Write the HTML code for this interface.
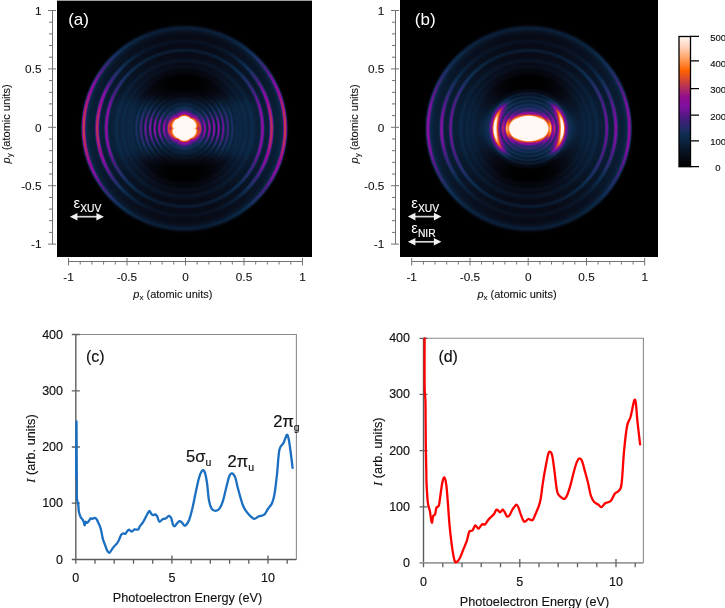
<!DOCTYPE html>
<html><head><meta charset="utf-8">
<style>
html,body{margin:0;padding:0;background:#fff;width:725px;height:608px;overflow:hidden;}
body{position:relative;font-family:"Liberation Sans",sans-serif;}
canvas{position:absolute;display:block;}
#fb{position:absolute;left:0;top:0;}
#ca{left:57px;top:1px;width:255px;height:256px;}
#cb{left:400px;top:0px;width:258px;height:257px;}
#topline{position:absolute;left:57px;top:0;width:255px;height:1px;background:#a0a0a0;}
svg{position:absolute;left:0;top:0;}
.tk{font-size:11.8px;fill:#111;stroke:#111;stroke-width:0.1px;}
.tk2{font-size:12.5px;fill:#111;stroke:#111;stroke-width:0.15px;}
.al{font-size:11px;fill:#111;stroke:#111;stroke-width:0.1px;}
.sub{font-size:8px;}
.pl{font-size:17px;}
.pl2{font-size:16px;fill:#111;stroke:#111;stroke-width:0.15px;}
.eps{font-size:15px;}
.esub{font-size:10.3px;stroke:#fff;stroke-width:0.15px;}
.cb{font-size:9.5px;fill:#111;stroke:#111;stroke-width:0.15px;}
.at{font-size:12.7px;fill:#111;stroke:#111;stroke-width:0.12px;}
.pk{font-size:16.5px;fill:#111;stroke:#111;stroke-width:0.2px;}
.pks{font-size:10.5px;}
</style></head><body>
<div id="topline"></div>
<svg id="fb" width="725" height="258" viewBox="0 0 725 258"><defs><filter id="bl" x="-10%" y="-10%" width="120%" height="120%"><feGaussianBlur stdDeviation="1.2"/></filter></defs><rect x="57" y="1" width="255" height="256" fill="#000"/><rect x="400" y="0" width="258" height="257" fill="#000"/><g filter="url(#bl)"><circle cx="184.4" cy="128.4" r="88" fill="none" stroke="#040d18" stroke-width="30"/>
<circle cx="184.4" cy="128.4" r="100.8" fill="none" stroke="#0c2d4e" stroke-width="4"/>
<circle cx="184.4" cy="128.4" r="87.2" fill="none" stroke="#0a2440" stroke-width="2.5"/>
<circle cx="184.4" cy="128.4" r="78.1" fill="none" stroke="#0c2d4e" stroke-width="2.5"/>
<circle cx="184.4" cy="128.4" r="68" fill="none" stroke="#081c30" stroke-width="2"/>
<circle cx="184.4" cy="128.4" r="61.5" fill="none" stroke="#081c30" stroke-width="2"/>
<path d="M271.9 178.9A101 101 0 0 0 271.9 77.9 M96.9 77.9A101 101 0 0 0 96.9 178.9" fill="none" stroke="#b02c70" stroke-width="3.5"/>
<path d="M259.9 172.0A87.2 87.2 0 0 0 259.9 84.8 M108.9 84.8A87.2 87.2 0 0 0 108.9 172.0" fill="none" stroke="#b02c70" stroke-width="3.5"/>
<path d="M252.0 167.4A78.1 78.1 0 0 0 252.0 89.4 M116.8 89.4A78.1 78.1 0 0 0 116.8 167.5" fill="none" stroke="#b02c70" stroke-width="3"/>
<rect x="114.4" y="100.4" width="140" height="56" rx="28" fill="#071a2e"/>
<ellipse cx="184.4" cy="128.4" rx="42" ry="18" fill="#3a1a6a"/>
<circle cx="184.4" cy="128.4" r="13.5" fill="#ff6400"/><circle cx="184.4" cy="128.4" r="12" fill="#fff8f4"/><circle cx="528.7" cy="128.5" r="88" fill="none" stroke="#040d18" stroke-width="30"/>
<circle cx="528.7" cy="128.5" r="100.8" fill="none" stroke="#0c2d4e" stroke-width="4"/>
<circle cx="528.7" cy="128.5" r="87.2" fill="none" stroke="#0a2440" stroke-width="2.5"/>
<circle cx="528.7" cy="128.5" r="78.1" fill="none" stroke="#0c2d4e" stroke-width="2.5"/>
<circle cx="528.7" cy="128.5" r="68" fill="none" stroke="#081c30" stroke-width="2"/>
<circle cx="528.7" cy="128.5" r="61.5" fill="none" stroke="#081c30" stroke-width="2"/>
<path d="M616.2 179.0A101 101 0 0 0 616.2 78.0 M441.2 78.0A101 101 0 0 0 441.2 179.0" fill="none" stroke="#8a10a0" stroke-width="3.5"/>
<path d="M604.2 172.1A87.2 87.2 0 0 0 604.2 84.9 M453.2 84.9A87.2 87.2 0 0 0 453.2 172.1" fill="none" stroke="#8a10a0" stroke-width="3.5"/>
<path d="M596.3 167.5A78.1 78.1 0 0 0 596.3 89.5 M461.1 89.5A78.1 78.1 0 0 0 461.1 167.6" fill="none" stroke="#8a10a0" stroke-width="3"/>
<ellipse cx="528.7" cy="128.5" rx="40" ry="34" fill="#071a2e"/>
<path d="M555.2 149.2A33.6 33.6 0 0 0 555.2 107.8 M502.2 107.8A33.6 33.6 0 0 0 502.2 149.2" fill="none" stroke="#ff7010" stroke-width="5"/>
<path d="M561.3 136.6A33.6 33.6 0 0 0 561.3 120.4 M496.1 120.4A33.6 33.6 0 0 0 496.1 136.6" fill="none" stroke="#fff8f4" stroke-width="2.5"/>
<ellipse cx="528.7" cy="128.5" rx="20" ry="13.3" fill="#ff6400"/><ellipse cx="528.7" cy="128.5" rx="18.5" ry="11.8" fill="#fff8f4"/></g></svg>
<canvas id="ca" width="255" height="256"></canvas>
<canvas id="cb" width="258" height="257"></canvas>
<svg width="725" height="608" viewBox="0 0 725 608">
<path d="M52.5 10.5V244.1" stroke="#727272" stroke-width="1"/>
<path d="M48 244.1H56M49 232.4H52.5M49 220.7H52.5M49 209.1H52.5M49 197.4H52.5M48 185.7H56M49 174.0H52.5M49 162.3H52.5M49 150.7H52.5M49 139.0H52.5M48 127.3H56M49 115.6H52.5M49 103.9H52.5M49 92.3H52.5M49 80.6H52.5M48 68.9H56M49 57.2H52.5M49 45.5H52.5M49 33.9H52.5M49 22.2H52.5M48 10.5H56" stroke="#727272" stroke-width="1"/>
<path d="M68.5 261.5H302.5" stroke="#727272" stroke-width="1"/>
<path d="M68.5 258.0V265.5M80.2 261.5V264.5M91.9 261.5V264.5M103.6 261.5V264.5M115.3 261.5V264.5M127.0 258.0V265.5M138.7 261.5V264.5M150.4 261.5V264.5M162.1 261.5V264.5M173.8 261.5V264.5M185.5 258.0V265.5M197.2 261.5V264.5M208.9 261.5V264.5M220.6 261.5V264.5M232.3 261.5V264.5M244.0 258.0V265.5M255.7 261.5V264.5M267.4 261.5V264.5M279.1 261.5V264.5M290.8 261.5V264.5M302.5 258.0V265.5" stroke="#727272" stroke-width="1"/>
<text x="41.5" y="248.4" text-anchor="end" class="tk">-1</text>
<text x="41.5" y="190.0" text-anchor="end" class="tk">-0.5</text>
<text x="41.5" y="131.6" text-anchor="end" class="tk">0</text>
<text x="41.5" y="73.2" text-anchor="end" class="tk">0.5</text>
<text x="41.5" y="14.8" text-anchor="end" class="tk">1</text>
<text x="68.5" y="281" text-anchor="middle" class="tk">-1</text>
<text x="127.0" y="281" text-anchor="middle" class="tk">-0.5</text>
<text x="185.5" y="281" text-anchor="middle" class="tk">0</text>
<text x="244.0" y="281" text-anchor="middle" class="tk">0.5</text>
<text x="302.5" y="281" text-anchor="middle" class="tk">1</text>
<text x="133.3" y="298.1" class="al"><tspan font-style="italic">p</tspan><tspan class="sub" dy="2">x</tspan><tspan dy="-2"> (atomic units)</tspan></text>
<path d="M395.5 10.5V244.1" stroke="#727272" stroke-width="1"/>
<path d="M391 244.1H399M392 232.4H395.5M392 220.7H395.5M392 209.1H395.5M392 197.4H395.5M391 185.7H399M392 174.0H395.5M392 162.3H395.5M392 150.7H395.5M392 139.0H395.5M391 127.3H399M392 115.6H395.5M392 103.9H395.5M392 92.3H395.5M392 80.6H395.5M391 68.9H399M392 57.2H395.5M392 45.5H395.5M392 33.9H395.5M392 22.2H395.5M391 10.5H399" stroke="#727272" stroke-width="1"/>
<path d="M411.7 261.5H644.7" stroke="#727272" stroke-width="1"/>
<path d="M411.7 258.0V265.5M423.4 261.5V264.5M435.0 261.5V264.5M446.7 261.5V264.5M458.3 261.5V264.5M470.0 258.0V265.5M481.6 261.5V264.5M493.3 261.5V264.5M504.9 261.5V264.5M516.6 261.5V264.5M528.2 258.0V265.5M539.9 261.5V264.5M551.5 261.5V264.5M563.2 261.5V264.5M574.8 261.5V264.5M586.5 258.0V265.5M598.1 261.5V264.5M609.8 261.5V264.5M621.4 261.5V264.5M633.1 261.5V264.5M644.7 258.0V265.5" stroke="#727272" stroke-width="1"/>
<text x="384.3" y="248.4" text-anchor="end" class="tk">-1</text>
<text x="384.3" y="190.0" text-anchor="end" class="tk">-0.5</text>
<text x="384.3" y="131.6" text-anchor="end" class="tk">0</text>
<text x="384.3" y="73.2" text-anchor="end" class="tk">0.5</text>
<text x="384.3" y="14.8" text-anchor="end" class="tk">1</text>
<text x="411.7" y="281" text-anchor="middle" class="tk">-1</text>
<text x="470.0" y="281" text-anchor="middle" class="tk">-0.5</text>
<text x="528.2" y="281" text-anchor="middle" class="tk">0</text>
<text x="586.5" y="281" text-anchor="middle" class="tk">0.5</text>
<text x="644.7" y="281" text-anchor="middle" class="tk">1</text>
<text x="477.4" y="298.1" class="al"><tspan font-style="italic">p</tspan><tspan class="sub" dy="2">x</tspan><tspan dy="-2"> (atomic units)</tspan></text>
<text transform="translate(10.2 123.9) rotate(-90)" text-anchor="middle" class="al"><tspan font-style="italic">p</tspan><tspan class="sub" dy="2">y</tspan><tspan dy="-2"> (atomic units)</tspan></text>
<text transform="translate(357.6 123.9) rotate(-90)" text-anchor="middle" class="al"><tspan font-style="italic">p</tspan><tspan class="sub" dy="2">y</tspan><tspan dy="-2"> (atomic units)</tspan></text>
<text x="68.2" y="25" class="pl" fill="#fff">(a)</text>
<text x="414.8" y="25" class="pl" fill="#fff">(b)</text>
<text x="73.5" y="208" class="eps" fill="#fff">ε<tspan class="esub" dy="4">XUV</tspan></text>
<path d="M75.9 216.7H97.9" stroke="#d8d8d8" stroke-width="1.7"/><path d="M69.9 216.7L77.4 212.89999999999998V220.5Z M103.9 216.7L96.4 212.89999999999998V220.5Z" fill="#f0f0f0"/>
<text x="411.2" y="207.6" class="eps" fill="#fff">ε<tspan class="esub" dy="4">XUV</tspan></text>
<path d="M413.9 216.6H435.4" stroke="#d8d8d8" stroke-width="1.7"/><path d="M407.9 216.6L415.4 212.79999999999998V220.4Z M441.4 216.6L433.9 212.79999999999998V220.4Z" fill="#f0f0f0"/>
<text x="411.2" y="233.4" class="eps" fill="#fff">ε<tspan class="esub" dy="4">NIR</tspan></text>
<path d="M413.9 241.8H435.4" stroke="#d8d8d8" stroke-width="1.7"/><path d="M407.9 241.8L415.4 238.0V245.60000000000002Z M441.4 241.8L433.9 238.0V245.60000000000002Z" fill="#f0f0f0"/>
<defs><linearGradient id="cbg" x1="0" y1="1" x2="0" y2="0"><stop offset="0" stop-color="#000"/><stop offset="0.08" stop-color="#080c18"/><stop offset="0.17" stop-color="#0a1e36"/><stop offset="0.24" stop-color="#0c2d4e"/><stop offset="0.30" stop-color="#262a6a"/><stop offset="0.38" stop-color="#4c1a80"/><stop offset="0.46" stop-color="#8010a0"/><stop offset="0.53" stop-color="#900c90"/><stop offset="0.60" stop-color="#b02c60"/><stop offset="0.67" stop-color="#d84830"/><stop offset="0.74" stop-color="#ff6400"/><stop offset="0.83" stop-color="#ffa060"/><stop offset="0.916" stop-color="#ffd0b8"/><stop offset="1" stop-color="#fff8f4"/></linearGradient></defs>
<rect x="679" y="36.5" width="11.5" height="130.2" fill="url(#cbg)" stroke="#000" stroke-width="1.3"/>
<path d="M690 36.3H699M690 60.9H699M690 88.6H699M690 115.2H699M690 140.9H699M690 166.7H699" stroke="#000" stroke-width="1.3"/>
<text x="715.3" y="170.9" class="cb">0</text>
<text x="710.3" y="145.1" class="cb">100</text>
<text x="710.3" y="119.7" class="cb">200</text>
<text x="710.3" y="93.1" class="cb">300</text>
<text x="710.3" y="67.0" class="cb">400</text>
<text x="710.3" y="40.9" class="cb">500</text>
<path d="M75.8 334.5H296.4V559.5" stroke="#8a8a8a" stroke-width="1.1" fill="none"/>
<path d="M75.8 334.5V559.5" stroke="#6a6a6a" stroke-width="1.5" fill="none"/>
<path d="M71.8 559.5H296.4" stroke="#5a5a5a" stroke-width="1.3" fill="none"/>
<path d="M71.8 503.2H79.8M71.8 447.0H79.8M71.8 390.8H79.8M71.8 334.5H79.8M75.8 559.5V563.8M95.0 559.5V563.8M114.2 559.5V563.8M133.5 559.5V563.8M152.7 559.5V563.8M171.9 555.5V563.8M191.1 559.5V563.8M210.3 559.5V563.8M229.6 559.5V563.8M248.8 559.5V563.8M268.0 555.5V563.8M287.2 559.5V563.8" stroke="#606060" stroke-width="1.3"/>
<text x="63" y="563.5" text-anchor="end" class="tk2">0</text>
<text x="63" y="507.2" text-anchor="end" class="tk2">100</text>
<text x="63" y="451.0" text-anchor="end" class="tk2">200</text>
<text x="63" y="394.8" text-anchor="end" class="tk2">300</text>
<text x="63" y="338.5" text-anchor="end" class="tk2">400</text>
<text x="75.8" y="582.4" text-anchor="middle" class="tk2">0</text>
<text x="171.9" y="582.4" text-anchor="middle" class="tk2">5</text>
<text x="268.0" y="582.4" text-anchor="middle" class="tk2">10</text>
<text x="112.8" y="601.5" class="at">Photoelectron Energy (eV)</text>
<text x="86" y="361.6" class="pl2">(c)</text>
<text transform="translate(35 448.5) rotate(-90)" text-anchor="middle" class="at"><tspan font-family="Liberation Serif" font-style="italic">I</tspan> (arb. units)</text>
<path d="M423.5 338.3H643.4V562.9" stroke="#8a8a8a" stroke-width="1.1" fill="none"/>
<path d="M423.5 338.3V562.9" stroke="#5a5a5a" stroke-width="1.4" fill="none"/>
<path d="M419.5 562.9H643.4" stroke="#9a9a9a" stroke-width="1.9" fill="none"/>
<path d="M419.5 506.8H427.5M419.5 450.6H427.5M419.5 394.4H427.5M419.5 338.3H427.5M423.5 562.9V567.1999999999999M442.8 562.9V567.1999999999999M462.0 562.9V567.1999999999999M481.2 562.9V567.1999999999999M500.5 562.9V567.1999999999999M519.8 558.9V567.1999999999999M539.0 562.9V567.1999999999999M558.2 562.9V567.1999999999999M577.5 562.9V567.1999999999999M596.8 562.9V567.1999999999999M616.0 558.9V567.1999999999999M635.2 562.9V567.1999999999999" stroke="#606060" stroke-width="1.3"/>
<text x="410" y="566.9" text-anchor="end" class="tk2">0</text>
<text x="410" y="510.8" text-anchor="end" class="tk2">100</text>
<text x="410" y="454.6" text-anchor="end" class="tk2">200</text>
<text x="410" y="398.4" text-anchor="end" class="tk2">300</text>
<text x="410" y="342.3" text-anchor="end" class="tk2">400</text>
<text x="423.5" y="585.7" text-anchor="middle" class="tk2">0</text>
<text x="519.8" y="585.7" text-anchor="middle" class="tk2">5</text>
<text x="616.0" y="585.7" text-anchor="middle" class="tk2">10</text>
<text x="459.7" y="605.5" class="at">Photoelectron Energy (eV)</text>
<text x="438.4" y="361.6" class="pl2">(d)</text>
<text transform="translate(382 451.7) rotate(-90)" text-anchor="middle" class="at"><tspan font-family="Liberation Serif" font-style="italic">I</tspan> (arb. units)</text>
<text x="186" y="461.5" class="pk">5σ<tspan class="pks" dy="4">u</tspan></text>
<text x="227.6" y="466.7" class="pk">2π<tspan class="pks" dy="4">u</tspan></text>
<text x="273.3" y="426.9" class="pk">2π<tspan class="pks" dy="4">g</tspan></text>
<path d="M76.2 478.0C76.2 468.6 76.4 421.2 76.5 421.5C76.6 421.8 76.7 467.2 76.8 480.0C76.9 492.8 76.7 494.4 76.9 498.4C77.1 502.3 77.9 501.5 78.2 503.7C78.5 505.9 78.5 509.4 78.9 511.6C79.3 513.8 79.9 515.5 80.5 516.8C81.1 518.1 82.0 518.6 82.5 519.5C83.0 520.4 83.4 521.1 83.8 522.1C84.2 523.1 84.4 525.5 84.7 525.4C85.0 525.3 85.1 522.2 85.5 521.8C85.9 521.4 86.5 523.0 87.1 522.8C87.7 522.6 88.5 521.5 89.1 520.8C89.6 520.1 89.9 518.7 90.4 518.4C91.0 518.1 91.8 518.9 92.4 518.8C93.1 518.7 93.7 517.9 94.3 517.9C94.9 517.9 95.6 518.0 96.3 518.8C97.0 519.6 97.6 521.4 98.3 522.8C99.0 524.2 99.8 525.8 100.3 527.4C100.8 529.0 101.2 530.6 101.6 532.6C102.0 534.6 102.4 537.2 102.9 539.2C103.5 541.2 104.2 542.8 104.9 544.5C105.6 546.2 106.2 548.4 106.8 549.7C107.4 551.1 108.2 552.2 108.8 552.6C109.3 553.0 109.5 552.7 110.1 552.1C110.6 551.5 111.3 550.2 112.1 549.1C112.9 548.0 113.8 546.8 114.7 545.8C115.6 544.8 116.6 544.0 117.4 542.9C118.2 541.8 118.7 540.6 119.3 539.2C119.9 537.8 120.6 535.6 121.3 534.6C122.0 533.6 122.6 533.4 123.3 533.3C124.0 533.1 124.4 534.3 125.3 533.7C126.2 533.1 127.5 530.1 128.6 529.8C129.7 529.4 130.8 531.7 131.8 531.6C132.8 531.5 133.4 529.7 134.5 529.4C135.6 529.1 137.2 530.1 138.1 529.6C139.0 529.1 139.1 527.5 139.9 526.2C140.7 525.0 142.0 523.9 143.1 522.1C144.2 520.3 145.7 517.1 146.7 515.3C147.7 513.4 148.6 511.3 149.3 511.0C150.1 510.7 150.6 513.0 151.2 513.7C151.8 514.4 152.4 515.1 153.1 515.2C153.8 515.3 154.6 514.1 155.3 514.3C156.0 514.5 156.4 515.0 157.1 516.2C157.8 517.4 158.4 521.2 159.4 521.7C160.4 522.2 161.9 519.5 163.0 519.0C164.1 518.5 164.7 519.0 165.7 518.5C166.7 518.0 168.0 515.9 168.9 515.8C169.8 515.7 170.5 516.6 171.2 518.1C171.9 519.6 172.4 523.4 173.0 524.8C173.6 526.1 174.0 526.4 174.6 526.2C175.2 526.1 175.8 524.7 176.6 523.9C177.4 523.1 178.4 521.4 179.3 521.2C180.2 521.0 181.1 521.9 182.0 522.6C182.9 523.4 183.8 526.2 185.0 525.7C186.2 525.2 187.9 522.7 189.2 519.7C190.4 516.7 191.4 512.5 192.5 507.9C193.6 503.3 194.7 497.2 195.8 492.1C196.9 487.1 198.0 481.2 199.1 477.6C200.2 474.0 201.4 471.2 202.4 470.4C203.4 469.6 204.2 470.9 205.0 473.0C205.8 475.1 206.3 478.4 207.0 482.9C207.7 487.4 208.1 495.7 208.9 500.0C209.7 504.3 210.5 506.8 211.6 508.6C212.7 510.4 214.2 510.8 215.5 510.8C216.8 510.8 218.3 510.2 219.5 508.6C220.7 507.0 221.7 504.7 222.8 501.3C223.9 497.9 225.0 492.4 226.1 488.2C227.2 484.0 228.3 478.8 229.3 476.3C230.3 473.8 231.0 473.2 232.0 473.4C233.0 473.6 234.3 475.1 235.3 477.6C236.3 480.1 236.7 483.8 237.9 488.2C239.1 492.6 241.1 500.3 242.4 504.0C243.7 507.7 244.3 508.6 245.7 510.6C247.1 512.6 249.1 514.9 250.6 516.3C252.1 517.7 253.0 518.8 254.4 518.8C255.8 518.8 257.2 517.0 258.9 516.3C260.5 515.6 262.8 515.9 264.3 514.7C265.8 513.5 266.6 510.8 267.9 508.9C269.2 507.0 270.9 505.7 272.0 503.2C273.1 500.7 273.7 498.9 274.5 494.1C275.3 489.3 276.2 481.8 277.0 474.4C277.8 467.0 278.3 454.9 279.4 449.7C280.5 444.5 282.3 445.6 283.5 443.1C284.7 440.6 286.0 435.7 286.8 434.9C287.6 434.1 287.9 436.0 288.5 438.2C289.1 440.4 289.4 443.1 290.1 448.0C290.8 452.9 292.2 464.5 292.6 467.8" stroke="#1a6fc0" stroke-width="2.3" fill="none" stroke-linejoin="round" stroke-linecap="round"/>
<path d="M424.6 338.5C424.6 346.4 424.5 375.8 424.6 386.0C424.7 396.2 425.2 394.3 425.4 400.0C425.6 405.7 425.5 412.6 425.6 420.0C425.7 427.4 425.7 436.4 425.8 444.7C425.9 453.0 426.2 463.3 426.3 470.0C426.4 476.7 426.3 479.3 426.6 484.8C426.9 490.3 427.3 498.5 427.9 502.9C428.4 507.3 429.2 507.8 429.9 511.1C430.5 514.4 431.2 521.8 431.8 522.6C432.4 523.4 432.6 517.4 433.2 516.0C433.8 514.6 434.6 515.8 435.1 514.4C435.6 513.0 435.8 509.3 436.4 507.8C437.0 506.3 438.2 507.5 438.9 505.3C439.6 503.1 439.9 498.4 440.5 494.7C441.1 491.0 441.6 486.1 442.2 483.2C442.8 480.3 443.6 477.1 444.3 477.4C445.0 477.7 445.7 480.6 446.3 484.8C446.9 489.1 447.3 496.0 447.9 502.9C448.4 509.8 448.9 518.5 449.6 525.9C450.3 533.3 451.3 541.5 452.1 547.3C452.9 553.0 453.8 557.9 454.5 560.4C455.2 562.9 455.7 562.4 456.5 562.1C457.3 561.8 458.3 561.0 459.5 558.8C460.7 556.6 462.4 551.9 463.6 548.9C464.8 545.9 465.9 543.6 466.9 540.7C467.8 537.8 468.4 533.3 469.3 531.6C470.2 529.9 471.3 531.5 472.3 530.5C473.3 529.5 474.3 526.1 475.1 525.6C475.9 525.1 476.6 527.0 477.2 527.5C477.8 528.0 478.1 528.9 478.9 528.4C479.7 527.9 481.2 524.9 482.2 524.2C483.2 523.6 483.9 525.2 484.9 524.5C485.9 523.8 487.2 521.1 488.2 519.9C489.2 518.7 489.8 518.2 490.8 517.2C491.8 516.2 493.2 515.2 494.1 514.0C495.0 512.8 495.5 510.6 496.1 510.0C496.8 509.4 497.4 509.9 498.0 510.3C498.6 510.7 499.2 512.5 500.0 512.4C500.8 512.3 501.8 509.8 502.6 509.7C503.4 509.6 503.8 510.9 504.6 512.0C505.4 513.1 506.3 516.2 507.2 516.6C508.1 517.0 509.0 515.8 509.9 514.6C510.8 513.4 511.7 510.6 512.5 509.3C513.3 508.0 513.9 507.5 514.5 506.7C515.1 505.9 515.8 504.6 516.4 504.7C517.0 504.8 517.6 505.6 518.4 507.4C519.2 509.2 520.2 513.0 521.1 515.3C522.0 517.6 522.9 520.2 523.7 521.2C524.5 522.2 524.9 521.6 525.7 521.2C526.5 520.8 527.4 519.2 528.3 519.0C529.2 518.8 530.1 519.8 530.9 519.9C531.7 520.0 532.1 520.9 532.9 519.9C533.7 518.9 534.5 516.3 535.5 514.0C536.5 511.7 537.9 508.7 538.8 506.1C539.7 503.5 540.2 501.6 540.8 498.2C541.4 494.8 541.8 490.0 542.5 485.4C543.2 480.8 543.9 475.9 544.9 470.7C545.9 465.5 547.3 457.3 548.2 454.2C549.1 451.1 549.5 451.5 550.2 451.8C550.9 452.1 551.7 453.3 552.3 455.9C552.9 458.5 553.5 463.3 554.0 467.4C554.5 471.5 555.1 476.4 555.6 480.5C556.1 484.6 556.6 489.4 557.3 492.0C558.0 494.6 558.5 495.0 559.7 496.1C560.9 497.2 563.1 499.0 564.3 498.9C565.5 498.8 566.1 497.6 567.1 495.3C568.1 493.1 569.3 489.2 570.4 485.4C571.5 481.6 572.6 476.3 573.7 472.3C574.8 468.3 576.0 463.9 577.0 461.6C578.0 459.3 578.6 458.4 579.4 458.3C580.2 458.2 580.9 458.5 581.9 460.8C582.9 463.1 584.1 468.4 585.2 472.3C586.3 476.2 587.4 480.1 588.3 484.0C589.2 487.9 589.8 492.5 590.8 495.5C591.8 498.5 592.9 500.5 594.2 502.0C595.5 503.5 597.2 503.8 598.4 504.7C599.6 505.6 600.2 507.4 601.4 507.1C602.6 506.8 604.0 504.0 605.5 503.0C607.0 502.0 609.2 502.5 610.7 501.0C612.2 499.5 613.4 495.5 614.8 493.8C616.2 492.1 617.8 492.4 618.9 490.7C620.0 489.0 620.8 490.0 621.6 483.5C622.5 477.0 623.1 461.2 624.0 451.6C624.9 442.0 626.0 431.8 627.1 426.0C628.2 420.2 629.4 421.0 630.6 416.7C631.8 412.4 633.4 402.4 634.3 400.3C635.2 398.2 635.5 401.0 636.0 404.4C636.5 407.8 636.7 414.1 637.4 420.8C638.1 427.5 639.6 440.5 640.1 444.4" stroke="#ff0000" stroke-width="2.3" fill="none" stroke-linejoin="round" stroke-linecap="round"/>
</svg>
<script>
(function(){
var ST=[[0,0,0,0],[40,8,12,24],[85,10,30,54],[120,12,45,78],[150,38,42,106],[190,76,26,128],[230,128,16,160],[265,144,12,144],[300,176,44,96],[335,216,72,48],[370,255,100,0],[415,255,160,96],[458,255,208,184],[500,255,248,244]];
function cmap(v){
  if(v<=0) return [0,0,0];
  if(v>=500) return [255,248,244];
  for(var i=1;i<ST.length;i++){ if(v<=ST[i][0]){ var a=ST[i-1],b=ST[i],t=(v-a[0])/(b[0]-a[0]); return [a[1]+(b[1]-a[1])*t,a[2]+(b[2]-a[2])*t,a[3]+(b[3]-a[3])*t]; } }
  return [255,248,244];
}
function G(r,r0,w){var t=(r-r0)/w;return Math.exp(-t*t);}
function G4(r,r0,w){var t=(r-r0)/w;t=t*t;return Math.exp(-t*t);}
function ss(e0,e1,x){var t=(x-e0)/(e1-e0);t=t<0?0:t>1?1:t;return t*t*(3-2*t);}
function interp(x,P){ if(x<=P[0][0]) return P[0][1]; for(var i=1;i<P.length;i++){ if(x<=P[i][0]){ var t=(x-P[i-1][0])/(P[i][0]-P[i-1][0]); return P[i-1][1]+(P[i][1]-P[i-1][1])*t; } } return P[P.length-1][1]; }
function outer(r,c2,k1,k2,k3,pw){
  var c3=Math.pow(c2,pw), I=0;
  I+=G4(r,101,1.9)*(15+k1*c3);
  I+=G(r,99.8,3.4)*35;
  I+=G4(r,87.2,1.9)*(15+k2*c3);
  I+=G4(r,78.1,1.75)*(38+k3*c2*c2);
  I+=G(r,68,2.2)*22+G(r,61.5,2.0)*18+G(r,56,2.0)*14;
  var q=Math.pow(c2,1.3); I+=ss(104.5,100,r)*ss(30,46,r)*(q*85+(1-q)*ss(50,68,r)*38);
  return I;
}
var CA=[[0,720],[10.6,660],[11.8,440],[12.8,330],[14,220],[16,130],[18,80],[21,45],[26,20],[34,8],[42,0]];
function Ia(x,y){
  var r=Math.sqrt(x*x+y*y)+1e-6, c2=x*x/(r*r), s2=1-c2, I=outer(r,c2,195,205,120,2.0);
  var ax=Math.abs(x);
  var hw=32-4*ss(0,50,ax);
  var band=Math.exp(-Math.pow(y/hw,6))*Math.exp(-Math.pow(ax/78,4));
  var fr=0.5+0.5*Math.cos(2*Math.PI*(r-16)/4.6);
  var thh=Math.atan2(Math.abs(y),ax);
  var ang=Math.exp(-Math.pow(thh/0.52,2));
  I+=band*ss(12,17,r)*(80*(1-0.85*ss(30,46,r)*c2*c2)*(0.75+0.25*fr))+band*ss(13,17,r)*(140+40*ss(18,26,r))*ss(58,32,r)*ang*fr;
  var th=Math.atan2(y,x);
  var R=10.9+1.1*Math.sqrt(Math.abs(Math.sin(3*th)));
  var rr=r*11.6/R;
  I+=interp(rr,CA)+G(r,14.3,1.5)*80*c2;
  var sx=(ax-10.4)/1.0, sy=y/2.0, sw=0.9*Math.exp(-sx*sx-sy*sy);
  I=I*(1-sw)+390*sw;
  return I;
}
var CB=[[0,720],[0.95,680],[1.0,470],[1.06,380],[1.15,270],[1.3,170],[1.5,90],[2.0,40],[2.8,0]];
function Ib(x,y){
  var r=Math.sqrt(x*x+y*y)+1e-6, c2=x*x/(r*r), s2=1-c2, I=outer(r,c2,125,130,90,3.2);
  var th=Math.abs(Math.atan2(y,x)); if(th>Math.PI/2) th=Math.PI-th;
  var A=Math.exp(-Math.pow(th/0.72,3)), A2=Math.exp(-Math.pow(th/0.3,2));
  I+=(120*A2*G(r,33.6,1.4)+310*A*G(r,33.6,3.4));
  var e=Math.sqrt((x/18.5)*(x/18.5)+(y/11.8)*(y/11.8));
  I+=interp(e,CB);
  var rN=Math.sqrt(x*x+1.2*y*y);
  var fr=0.5+0.5*Math.cos(2*Math.PI*(rN-22)/4.2);
  I+=ss(46,36,rN)*ss(8,16,rN)*95*(0.6+0.4*fr);
  I+=ss(31,24,r)*ss(18,23,r)*Math.exp(-Math.pow(th/0.6,2))*110*fr;
  return I;
}
function draw(id,f,cx,cy){
  var cv=document.getElementById(id); if(!cv||!cv.getContext) return;
  var ctx=cv.getContext('2d'), w=cv.width, h=cv.height, im=ctx.createImageData(w,h), d=im.data;
  for(var j=0;j<h;j++){ for(var i=0;i<w;i++){
    var v=0; 
    v+=f(i+0.25-cx,j+0.25-cy); v+=f(i+0.75-cx,j+0.25-cy); v+=f(i+0.25-cx,j+0.75-cy); v+=f(i+0.75-cx,j+0.75-cy);
    var c=cmap(v/4), p=(j*w+i)*4;
    d[p]=c[0]; d[p+1]=c[1]; d[p+2]=c[2]; d[p+3]=255;
  }}
  ctx.putImageData(im,0,0);
}
draw('ca',Ia,127.4,127.4);
draw('cb',Ib,128.7,128.5);
})();

</script>
</body></html>
